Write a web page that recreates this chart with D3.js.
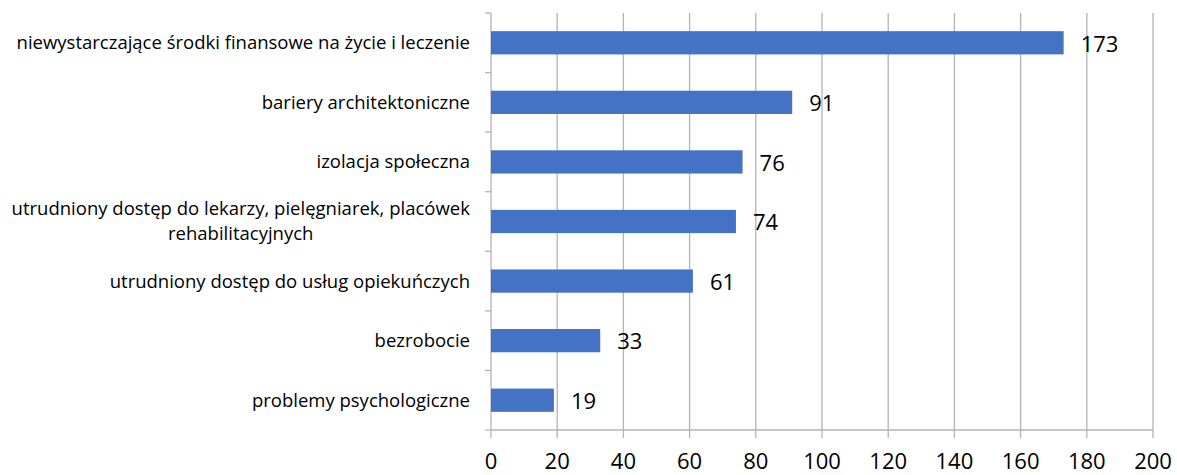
<!DOCTYPE html>
<html>
  <head>
    <meta http-equiv="Content-Type" content="text/html;charset=utf-8">
    <title>Bariery</title>
    <script src="https://d3js.org/d3.v7.min.js"></script>
    <style>
      html, body {
        margin: 0;
        padding: 0;
        background: #fff;
      }
      text {
        font-family: "Open Sans", sans-serif;
        fill: #000;
      }
      .grid line, .grid path {
        stroke: #b3b3b3;
        stroke-width: 1.3px;
      }
    </style>
  </head>
  <body>
    <script type="text/javascript">

var categories = [
  ["niewystarczające środki finansowe na życie i leczenie"],
  ["bariery architektoniczne"],
  ["izolacja społeczna"],
  ["utrudniony dostęp do lekarzy, pielęgniarek, placówek", "rehabilitacyjnych"],
  ["utrudniony dostęp do usług opiekuńczych"],
  ["bezrobocie"],
  ["problemy psychologiczne"]
];
var values = [173, 91, 76, 74, 61, 33, 19];
var xTicks = [0, 20, 40, 60, 80, 100, 120, 140, 160, 180, 200];

var W = 1177, H = 475;
var mLeft = 491, mRight = 1153, mTop = 13, mBottom = 430;

var svg = d3.select("body").append("svg")
  .attr("width", W)
  .attr("height", H);

var x = d3.scaleLinear().domain([0, 200]).range([mLeft, mRight]);
var y = d3.scaleBand().domain(d3.range(categories.length)).range([mTop, mBottom]).paddingInner(0.61).paddingOuter(0.305);
var yb = d3.scaleBand().domain(d3.range(categories.length)).range([mTop, mBottom]);

// vertical gridlines incl. ticks below axis
svg.append("g").attr("class", "grid")
  .selectAll("line").data(xTicks).enter().append("line")
  .attr("x1", function(d) { return x(d); })
  .attr("x2", function(d) { return x(d); })
  .attr("y1", mTop)
  .attr("y2", mBottom + 8);

// horizontal axis line
svg.append("g").attr("class", "grid")
  .append("line")
  .attr("x1", mLeft).attr("x2", mRight)
  .attr("y1", mBottom).attr("y2", mBottom);

// category ticks on the left
var bounds = d3.range(categories.length).map(function(i) { return yb(i); }).concat([mBottom]);
svg.append("g").attr("class", "grid")
  .selectAll("line").data(bounds).enter().append("line")
  .attr("x1", mLeft - 6).attr("x2", mLeft)
  .attr("y1", function(d) { return d; })
  .attr("y2", function(d) { return d; });

// bars
svg.selectAll("rect.bar").data(values).enter().append("rect")
  .attr("class", "bar")
  .attr("x", x(0))
  .attr("y", function(d, i) { return y(i); })
  .attr("width", function(d) { return x(d) - x(0); })
  .attr("height", y.bandwidth())
  .attr("fill", "#4472C4");

// value labels
svg.selectAll("text.val").data(values).enter().append("text")
  .attr("class", "val")
  .attr("x", function(d) { return x(d) + 17; })
  .attr("y", function(d, i) { return y(i) + y.bandwidth() / 2; })
  .attr("dy", "0.40em")
  .style("font-size", "22px")
  .text(function(d) { return d; });

// x tick labels
svg.selectAll("text.xt").data(xTicks).enter().append("text")
  .attr("class", "xt")
  .attr("x", function(d) { return x(d); })
  .attr("y", 469)
  .attr("text-anchor", "middle")
  .style("font-size", "22px")
  .text(function(d) { return d; });

// category labels
var labelRight = 470;
categories.forEach(function(lines, i) {
  var cy = yb(i) + yb.bandwidth() / 2;
  var t = svg.append("text")
    .style("font-size", "18.5px")
    .attr("text-anchor", "middle");
  var lh = 25;
  lines.forEach(function(s, j) {
    t.append("tspan")
      .attr("x", 0)
      .attr("y", cy + (j - (lines.length - 1) / 2) * lh)
      .attr("dy", "0.35em")
      .text(s);
  });
  var w = t.node().getBBox().width;
  t.attr("transform", "translate(" + (labelRight - w / 2) + ",0)");
});

    </script>
  </body>
</html>
